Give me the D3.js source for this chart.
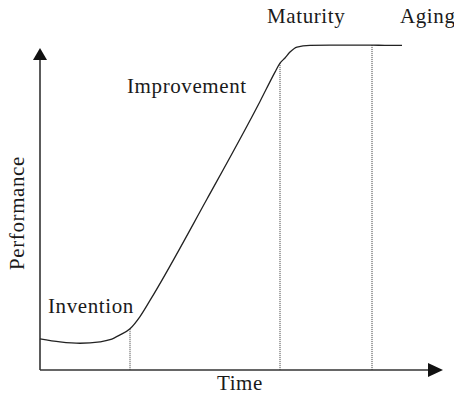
<!DOCTYPE html>
<html>
<head>
<meta charset="utf-8">
<script src="https://cdn.jsdelivr.net/npm/d3@7"></script>
<style>
  body { margin: 0; background: #fff; }
  text { font-family: "Liberation Serif", "Times New Roman", serif; fill: #1a1a1a; }
</style>
</head>
<body>
<div id="chart"></div>
<script>
// S-curve of technology performance over time
const time = [0, 5, 10, 15, 17.5, 20, 22.5, 25, 27.5, 41.75, 55, 58.75, 60, 61.25, 62.5, 64.25, 67.5, 72.5, 83, 86.25, 90.5];
const performance = [9.7, 8.75, 8.3, 8.75, 9.4, 10.9, 12.8, 16.6, 21.6, 53.1, 83.4, 92.5, 95.3, 96.9, 98.75, 100.3, 100.8, 100.9, 100.9, 100.8, 100.8];

// phase boundaries (time) and phase labels
const boundaries = [22.5, 60, 83];
const phases = ["Invention", "Improvement", "Maturity", "Aging"];

const data = time.map((t, i) => ({ t: t, p: performance[i] }));

const width = 454, height = 395;
const margin = { top: 48, right: 14, bottom: 25, left: 40 };

const svg = d3.select('#chart')
    .append('svg')
    .attr('width', width)
    .attr('height', height);

const x = d3.scaleLinear()
    .domain([0, 100])
    .range([margin.left, width - margin.right]);

const y = d3.scaleLinear()
    .domain([0, 100])
    .range([height - margin.bottom, margin.top]);

const axisColor = '#333';

// axes with arrow heads
svg.append('line')
    .attr('x1', x(0)).attr('y1', y(0))
    .attr('x2', x(0)).attr('y2', margin.top + 10)
    .attr('stroke', axisColor)
    .attr('stroke-width', 1.6);

svg.append('path')
    .attr('d', `M${x(0)},${margin.top} L${x(0) - 7},${margin.top + 12} L${x(0) + 7},${margin.top + 12} Z`)
    .attr('fill', '#111');

svg.append('line')
    .attr('x1', x(0)).attr('y1', y(0))
    .attr('x2', x(100) - 12).attr('y2', y(0))
    .attr('stroke', axisColor)
    .attr('stroke-width', 1.6);

svg.append('path')
    .attr('d', `M${x(100) + 3},${y(0)} L${x(100) - 12},${y(0) - 7} L${x(100) - 12},${y(0) + 7} Z`)
    .attr('fill', '#111');

// curve
const line = d3.line()
    .x(d => x(d.t))
    .y(d => y(d.p))
    .curve(d3.curveMonotoneX);

const interp = t => {
    const i = d3.bisector(d => d.t).left(data, t);
    if (data[i].t === t) return data[i].p;
    const a = data[i - 1], b = data[i];
    return a.p + (b.p - a.p) * (t - a.t) / (b.t - a.t);
};

// dotted phase boundaries
svg.selectAll('.boundary')
    .data(boundaries)
    .enter().append('line')
    .attr('class', 'boundary')
    .attr('x1', d => x(d)).attr('x2', d => x(d))
    .attr('y1', d => y(interp(d)))
    .attr('y2', y(0))
    .attr('stroke', '#333')
    .attr('stroke-width', 1)
    .attr('stroke-dasharray', '1,1');

svg.append('path')
    .datum(data)
    .attr('fill', 'none')
    .attr('stroke', '#222')
    .attr('stroke-width', 1.3)
    .attr('stroke-linejoin', 'round')
    .attr('d', line);

// phase labels
const labelPos = [
    { t: 2, dy: 313 },
    { t: 21.75, dy: 93 },
    { t: 56.75, dy: 23 },
    { t: 90, dy: 23 }
];

svg.selectAll('.phase')
    .data(phases)
    .enter().append('text')
    .attr('class', 'phase')
    .attr('x', (d, i) => x(labelPos[i].t))
    .attr('y', (d, i) => labelPos[i].dy)
    .attr('font-size', 21)
    .attr('letter-spacing', 0.6)
    .text(d => d);

svg.append('text')
    .attr('x', x(50))
    .attr('y', 390)
    .attr('text-anchor', 'middle')
    .attr('font-size', 21)
    .attr('letter-spacing', 0.6)
    .text('Time');

svg.append('text')
    .attr('transform', `translate(24, 213) rotate(-90)`)
    .attr('text-anchor', 'middle')
    .attr('font-size', 21)
    .attr('letter-spacing', 0.6)
    .text('Performance');
</script>
</body>
</html>
